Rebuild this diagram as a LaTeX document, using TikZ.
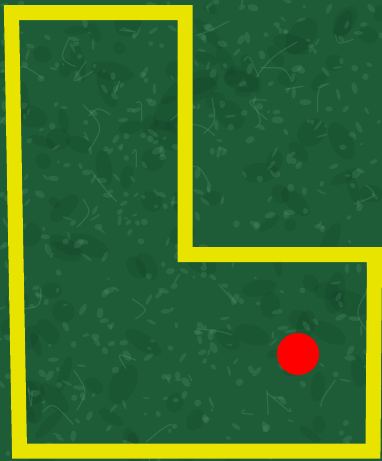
\documentclass[tikz,border=0pt]{standalone}
\usepackage{xcolor}
\definecolor{marble}{RGB}{30,92,56}
\definecolor{vein}{RGB}{115,180,140}
\definecolor{darkvein}{RGB}{10,52,28}
\definecolor{wall}{RGB}{232,228,0}
\begin{document}
\begin{tikzpicture}[x=1pt,y=-1pt]
\tikzset{wall/.style={draw=wall, line width=15pt, line join=miter},
         spot/.style={circle, fill=red, minimum size=42pt, inner sep=0pt}}
\pgfmathsetseed{7}
\useasboundingbox (0,0) rectangle (382,461);
\begin{scope}
\clip (0,0) rectangle (382,461);
\fill[marble] (0,0) rectangle (382,461);
% dark patches
\foreach \i in {1,...,120}{
  \pgfmathsetmacro{\px}{382*rnd}
  \pgfmathsetmacro{\py}{461*rnd}
  \pgfmathsetmacro{\rx}{6+16*rnd}
  \pgfmathsetmacro{\ry}{4+9*rnd}
  \pgfmathsetmacro{\ang}{360*rnd}
  \fill[darkvein, opacity=0.15, rotate around={\ang:(\px,\py)}] (\px,\py) ellipse ({\rx} and {\ry});
}
% light speckle
\foreach \i in {1,...,500}{
  \pgfmathsetmacro{\px}{382*rnd}
  \pgfmathsetmacro{\py}{461*rnd}
  \pgfmathsetmacro{\rx}{1.5+5*rnd}
  \pgfmathsetmacro{\ry}{1+2.5*rnd}
  \pgfmathsetmacro{\ang}{360*rnd}
  \fill[vein, opacity=0.16, rotate around={\ang:(\px,\py)}] (\px,\py) ellipse ({\rx} and {\ry});
}
% thin veins
\foreach \i in {1,...,45}{
  \pgfmathsetmacro{\px}{382*rnd}
  \pgfmathsetmacro{\py}{461*rnd}
  \pgfmathsetmacro{\ax}{\px+50*rnd-25}
  \pgfmathsetmacro{\ay}{\py+50*rnd-25}
  \pgfmathsetmacro{\qx}{\ax+50*rnd-25}
  \pgfmathsetmacro{\qy}{\ay+50*rnd-25}
  \draw[vein, opacity=0.22, line width=1.2pt] (\px,\py) .. controls (\ax,\ay) .. (\qx,\qy);
}
\end{scope}
% room outline
\coordinate (nw) at (11.5,12.5);
\coordinate (ne) at (185,12.5);
\coordinate (mid) at (185,254.5);
\coordinate (me) at (374.5,254.5);
\coordinate (se) at (373,451);
\coordinate (sw) at (19.5,451);
\draw[wall] (nw) -- (ne) -- (mid) -- (me) -- (se) -- (sw) -- cycle;
\node[spot] (dot) at (298,354) {};
\end{tikzpicture}
\end{document}
